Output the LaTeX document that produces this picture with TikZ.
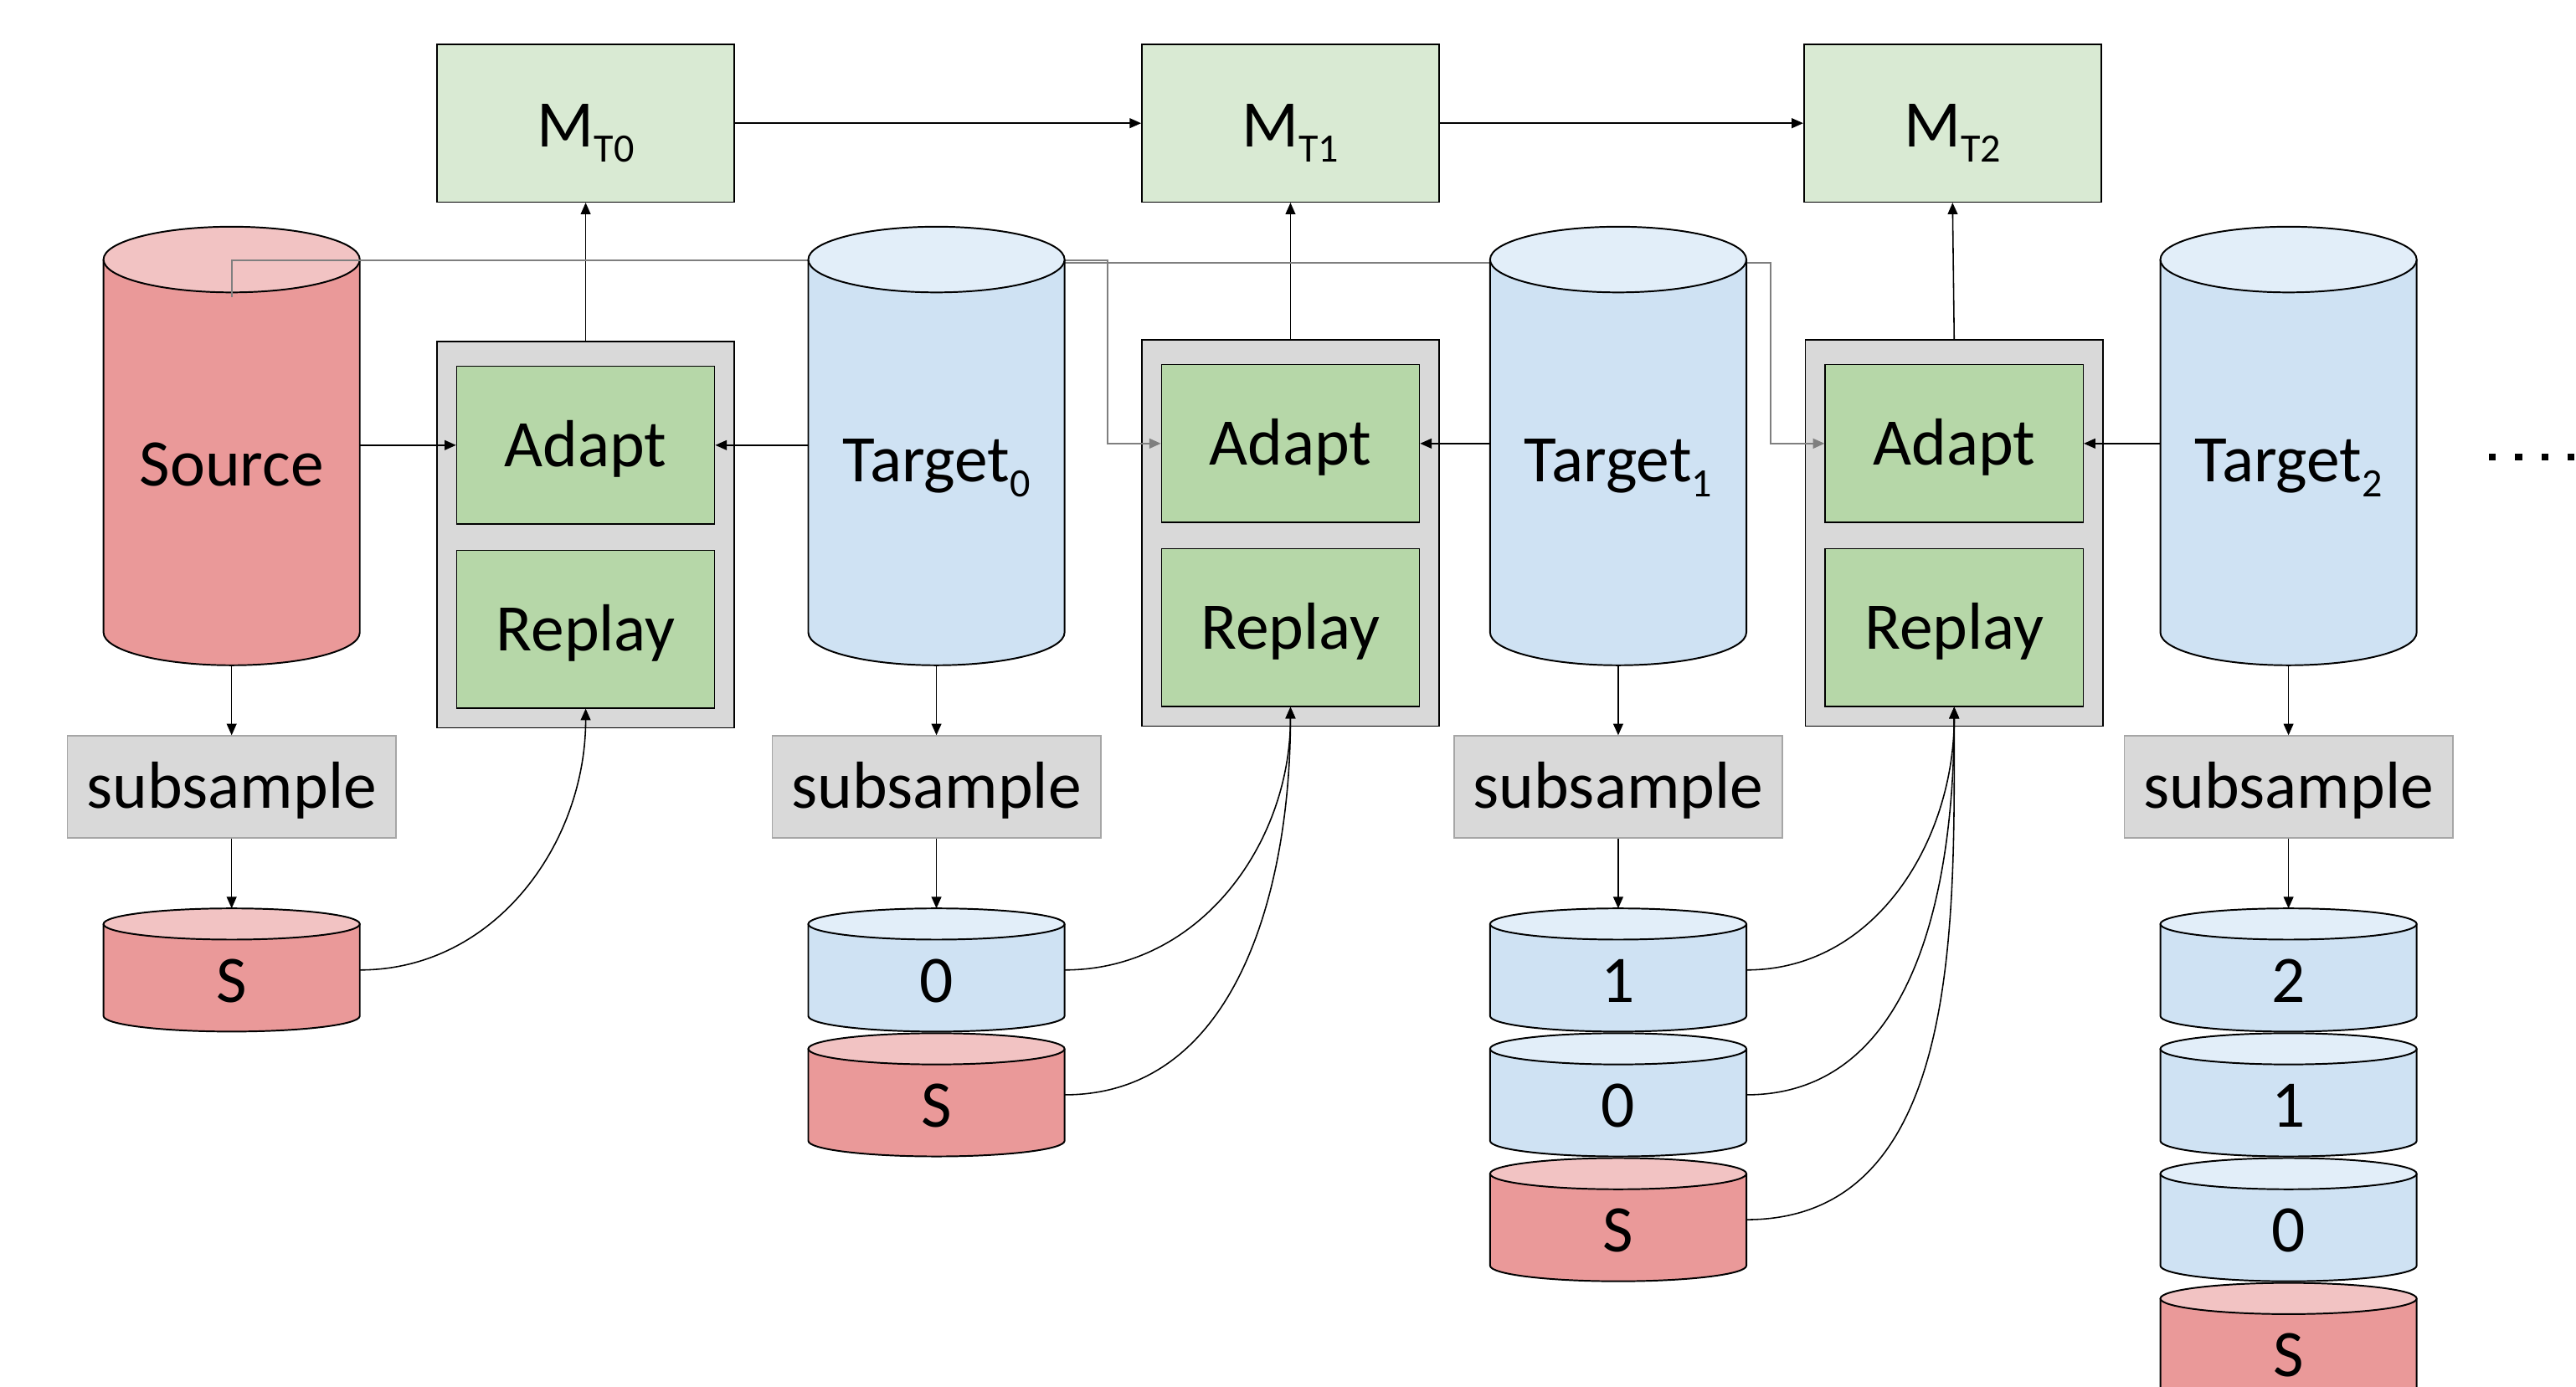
\documentclass[tikz,border=0pt]{standalone}
\usepackage{fontspec}
\setmainfont{Carlito}
\usetikzlibrary{arrows.meta}
\definecolor{srcbody}{HTML}{EA9999}
\definecolor{srctop}{HTML}{F2C3C3}
\definecolor{tgtbody}{HTML}{CFE2F3}
\definecolor{tgttop}{HTML}{E2EEF9}
\definecolor{adaptgreen}{HTML}{B6D7A8}
\definecolor{mgreen}{HTML}{D9EAD3}
\definecolor{boxgray}{HTML}{D9D9D9}
\definecolor{subborder}{HTML}{A6A6A6}
\definecolor{linkgray}{HTML}{7F7F7F}
\tikzset{
  lbl/.style={font=\fontsize{40.5}{48}\selectfont, inner sep=0pt},
  mbox/.style={draw, fill=mgreen, minimum width=181pt, minimum height=96pt, line width=0.8pt, lbl, text height=33pt, text depth=4pt},
  outerbox/.style={draw, fill=boxgray, minimum width=181pt, minimum height=235pt, line width=0.8pt, inner sep=0pt},
  innerbox/.style={draw, fill=adaptgreen, minimum width=157pt, minimum height=96pt, line width=0.8pt, lbl, text height=30pt, text depth=4pt},
  subbox/.style={draw=subborder, fill=boxgray, minimum width=200pt, minimum height=62pt, line width=0.8pt, lbl, text height=30pt, text depth=4pt},
  cylline/.style={draw=black, line width=1pt},
  arr/.style={-{Triangle[length=7pt,width=6pt]}, line width=0.8pt},
  garr/.style={draw=linkgray, -{Triangle[length=7pt,width=6pt]}, line width=1pt},
}
% #1 name, #2 cx, #3 top edge, #4 bottom edge, #5 ry, #6 body, #7 top, #8 text, #9 text y
\newcommand\drum[9]{%
  \node[minimum width=156pt, minimum height={(#4-#3)*1pt}, inner sep=0pt, outer sep=0pt] (#1) at (#2,{-(#3+#4)/2}) {};
  \fill[#6] (#2-78,{-(#3+#5)}) rectangle (#2+78,{-(#4-#5)});
  \fill[#6] (#2,{-(#4-#5)}) ellipse [x radius=78pt, y radius=#5pt];
  \draw[cylline] (#2-78,{-(#3+#5)}) -- (#2-78,{-(#4-#5)}) arc[start angle=180, end angle=360, x radius=78pt, y radius=#5pt] -- (#2+78,{-(#3+#5)});
  \filldraw[cylline, fill=#7] (#2,{-(#3+#5)}) ellipse [x radius=78pt, y radius=#5pt];
  \node[lbl] (#1t) at (#2,-#9) {#8};
}
\newcommand\subz[1]{\raisebox{-9pt}{\fontsize{24.5}{24}\selectfont #1}}
\begin{document}
\begin{tikzpicture}[x=1pt,y=1pt]
\useasboundingbox (0,0) rectangle (1568,-844);

% model boxes
\node[mbox] (m1) at (356.5,-75) {M\subz{T0}};
\node[mbox] (m2) at (785.5,-75) {M\subz{T1}};
\node[mbox] (m3) at (1188.5,-75) {M\subz{T2}};
\draw[arr] (m1) -- (m2);
\draw[arr] (m2) -- (m3);

% adapt/replay blocks
\node[outerbox] (b1) at (356.5,-325.5) {};
\node[innerbox] (ad1) at (356.5,-271) {Adapt};
\node[innerbox] (re1) at (356.5,-383) {Replay};
\node[outerbox] (b2) at (785.5,-324.5) {};
\node[innerbox] (ad2) at (785.5,-270) {Adapt};
\node[innerbox] (re2) at (785.5,-382) {Replay};
\node[outerbox] (b3) at (1189.5,-324.5) {};
\node[innerbox] (ad3) at (1189.5,-270) {Adapt};
\node[innerbox] (re3) at (1189.5,-382) {Replay};
\draw[arr] (b1.north) -- (m1.south);
\draw[arr] (b2.north) -- (m2.south);
\draw[arr] (b3.north) -- (m3.south);

% source
\drum{src}{141}{138}{405}{20}{srcbody}{srctop}{Source}{283}

% gray links
\coordinate (g1) at (141,-181);
\coordinate (g1turn) at (674,-158.5);
\coordinate (g2) at (570,-160);
\coordinate (g2turn) at (1078,-160);
\draw[garr] (g1) |- (g1turn) |- (ad2.west);
\draw[garr] (g2) -- (g2turn) |- (ad3.west);

% targets
\drum{tg0}{570}{138}{405}{20}{tgtbody}{tgttop}{Target\subz{0}}{285}
\drum{tg1}{985}{138}{405}{20}{tgtbody}{tgttop}{Target\subz{1}}{285}
\drum{tg2}{1393}{138}{405}{20}{tgtbody}{tgttop}{Target\subz{2}}{285}

\draw[arr] (ad1.west -| src.east) -- (ad1.west);
\draw[arr] (ad1.east -| tg0.west) -- (ad1.east);
\draw[arr] (ad2.east -| tg1.west) -- (ad2.east);
\draw[arr] (ad3.east -| tg2.west) -- (ad3.east);

% subsample
\node[subbox] (sub0) at (141,-479) {subsample};
\node[subbox] (sub1) at (570,-479) {subsample};
\node[subbox] (sub2) at (985,-479) {subsample};
\node[subbox] (sub3) at (1393,-479) {subsample};
\draw[arr] (src.south) -- (sub0.north);
\draw[arr] (tg0.south) -- (sub1.north);
\draw[arr] (tg1.south) -- (sub2.north);
\draw[arr] (tg2.south) -- (sub3.north);

% small drums
\drum{sa}{141}{553}{628}{9.5}{srcbody}{srctop}{S}{597}
\drum{ba0}{570}{553}{628}{9.5}{tgtbody}{tgttop}{0}{597}
\drum{ba1}{570}{629}{704}{9.5}{srcbody}{srctop}{S}{673}
\drum{ca0}{985}{553}{628}{9.5}{tgtbody}{tgttop}{1}{597}
\drum{ca1}{985}{629}{704}{9.5}{tgtbody}{tgttop}{0}{673}
\drum{ca2}{985}{705}{780}{9.5}{srcbody}{srctop}{S}{749}
\drum{da0}{1393}{553}{628}{9.5}{tgtbody}{tgttop}{2}{597}
\drum{da1}{1393}{629}{704}{9.5}{tgtbody}{tgttop}{1}{673}
\drum{da2}{1393}{705}{780}{9.5}{tgtbody}{tgttop}{0}{749}
\drum{da3}{1393}{781}{856}{9.5}{srcbody}{srctop}{S}{825}

\draw[arr] (sub0.south) -- (sa.north);
\draw[arr] (sub1.south) -- (ba0.north);
\draw[arr] (sub2.south) -- (ca0.north);
\draw[arr] (sub3.south) -- (da0.north);

% replay curves
\draw[arr] (sa.east) to[out=0, in=-90] (re1.south);
\draw[arr] (ba0.east) to[out=0, in=-90] (re2.south);
\draw[arr] (ba1.east) to[out=0, in=-90] (re2.south);
\draw[arr] (ca0.east) to[out=0, in=-90] (re3.south);
\draw[arr] (ca1.east) to[out=0, in=-90] (re3.south);
\draw[arr] (ca2.east) to[out=0, in=-90] (re3.south);

% continuation dots
\foreach \dx in {1515,1531,1547,1563} \fill (\dx,-276) rectangle ++(4.2,-4.2);
\end{tikzpicture}
\end{document}
